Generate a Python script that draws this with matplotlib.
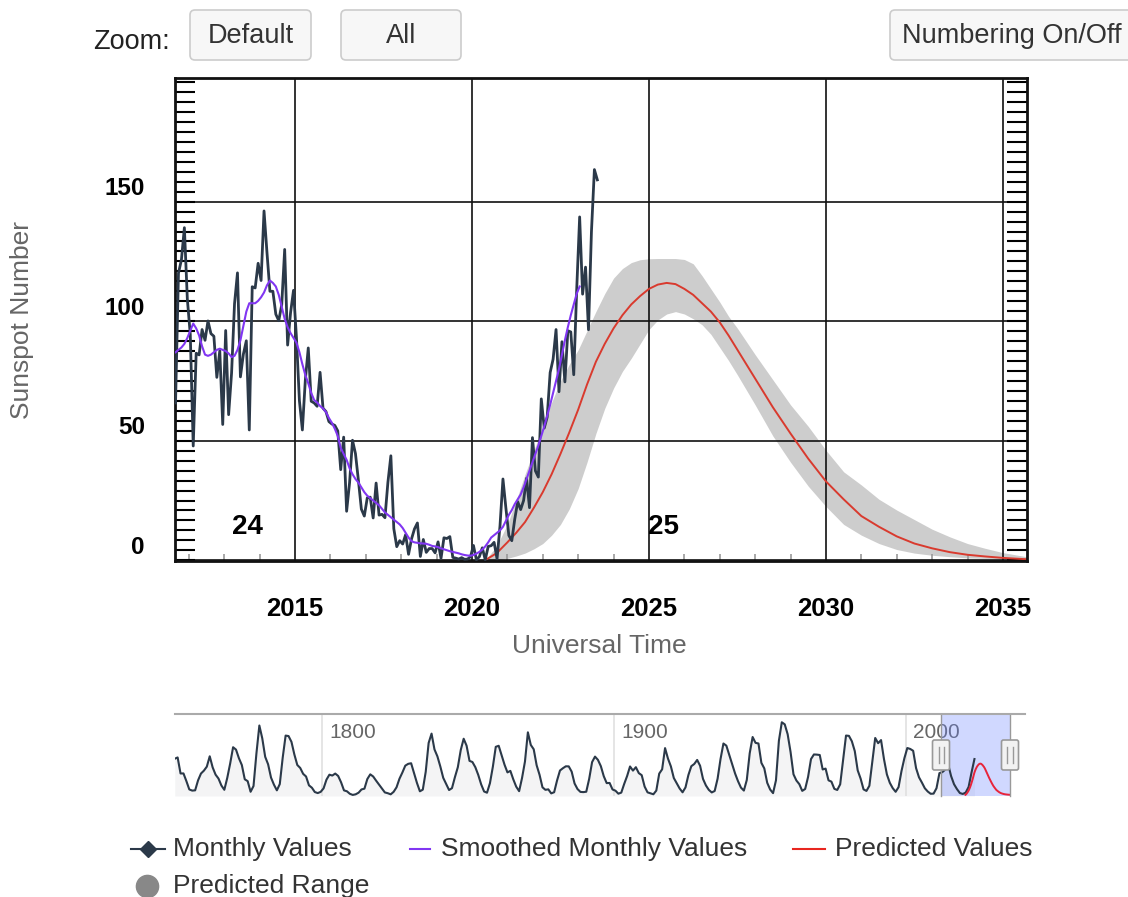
import numpy as np
import pandas as pd
import matplotlib
matplotlib.use('Agg')
import matplotlib.pyplot as plt
from matplotlib.patches import FancyBboxPatch
from matplotlib.lines import Line2D
from matplotlib.ticker import MultipleLocator

plt.rcParams['font.family'] = ['Liberation Sans', 'DejaVu Sans']

W, H = 1128, 897

# monthly mean sunspot number, Aug 2011 .. Jul 2023
monthly_start = '2011-08'
monthly_values = [
    65.8, 120.1, 125.7, 139.1, 109.3,
    94.4, 47.8, 86.6, 85.9, 96.5, 92.0, 100.1, 94.8, 93.7, 76.5, 87.6, 56.8,
    96.1, 60.9, 78.3, 107.3, 120.2, 76.7, 86.2, 91.8, 54.5, 114.4, 113.9, 124.2,
    117.0, 146.1, 128.7, 112.5, 112.5, 102.9, 100.2, 106.9, 130.0, 90.0, 103.6, 112.9,
    93.0, 66.7, 54.5, 75.3, 88.8, 66.5, 65.8, 64.4, 78.6, 63.6, 62.2, 58.0,
    57.0, 56.4, 54.1, 37.9, 51.5, 20.5, 32.4, 50.2, 44.6, 33.4, 21.4, 18.5,
    26.1, 26.4, 17.7, 32.3, 18.9, 19.2, 17.8, 32.6, 43.7, 13.2, 5.7, 8.2,
    6.8, 10.7, 2.5, 8.9, 13.1, 15.6, 1.6, 8.7, 3.3, 4.9, 4.9, 3.1,
    7.7, 0.8, 9.4, 9.1, 9.9, 1.2, 0.9, 0.5, 1.1, 0.4, 0.5, 1.5,
    6.2, 0.2, 1.5, 5.2, 0.2, 5.8, 6.1, 7.5, 0.6, 14.4, 34.0, 21.8,
    10.4, 8.2, 17.2, 24.5, 21.2, 25.0, 34.3, 22.0, 51.3, 37.4, 34.8, 67.5,
    55.3, 59.9, 78.5, 84.1, 96.5, 70.5, 91.4, 74.6, 96.0, 95.5, 77.6, 113.1,
    143.6, 111.3, 122.6, 96.4, 137.4, 163.4, 159.1,
]

# smoothed monthly values, Aug 2011 .. Jan 2023
smoothed_start = '2011-08'
smoothed_values = [
    87, 88, 89, 90.5, 93,
    96, 99, 97, 94, 89.5, 86, 85.5, 86, 87, 88, 88.5, 88,
    87.5, 86.5, 85, 85.5, 88, 92, 98, 104, 107.5, 107.5, 107.5, 108.5,
    110, 112, 115, 117, 116, 114.5, 111, 106, 101, 97.5, 95, 93,
    91, 87, 82, 77.5, 74, 70, 67, 66, 64.5, 63.5, 62, 59.5,
    57.5, 55, 52, 47, 44.5, 42, 38.5, 36, 34, 32.5, 30.5, 28.5,
    27, 26, 25, 24, 23, 21.5, 20, 19, 18, 17, 16, 15,
    13.5, 11.5, 9.5, 8, 7.5, 7.3, 7.1, 7, 6.9, 6.5, 6, 5.8,
    5.5, 5, 4.6, 4.2, 3.8, 3.5, 3.2, 2.9, 2.5, 2.2, 2, 1.9,
    2.2, 2.8, 3.5, 4.5, 5.8, 7.5, 9.5, 10.5, 11.5, 12.5, 14, 16.5,
    19, 21, 23.5, 25.5, 27.5, 30.5, 34, 37.5, 41, 44.5, 48, 52,
    56, 60.5, 65, 70, 75, 80, 86, 92, 97.5, 102.5, 107, 111.5,
    114.5,
]

# predicted cycle 25 and its range
pred_years = [2020.4, 2020.7, 2021.0, 2021.25, 2021.5, 2021.75, 2022.0, 2022.25,
              2022.5, 2022.75, 2023.0, 2023.25, 2023.5, 2023.75, 2024.0, 2024.25,
              2024.5, 2024.75, 2025.0, 2025.25, 2025.5, 2025.75, 2026.0, 2026.25,
              2026.5, 2026.75, 2027.0, 2027.25, 2027.5, 2028.0, 2028.5, 2029.0,
              2029.5, 2030.0, 2030.5, 2031.0, 2031.5, 2032.0, 2032.5, 2033.0,
              2033.5, 2034.0, 2034.5, 2035.0, 2035.7]
pred_values = [0.3, 3.0, 7.5, 11.5, 16, 22, 28.5, 36,
               44.5, 53.5, 63, 73.5, 83, 90.5, 97, 102.5,
               107, 110.5, 113.5, 115.3, 116, 115.5, 113.5, 111,
               107.5, 104, 99.5, 94, 88, 76, 64, 53,
               42.5, 33, 25.5, 18.5, 14, 10, 7, 5,
               3.4, 2.3, 1.6, 1.0, 0.4]
range_low = [0, 0, 0.8, 1.8, 3, 4.8, 7, 10.5,
             15, 21.5, 30, 41, 53, 63.5, 72, 79,
             84.5, 90.5, 96.5, 100.5, 103, 104, 103, 101,
             98.5, 94.5, 89, 83.5, 77.5, 65, 52, 41,
             31, 22.5, 15, 10.5, 7, 4.5, 3, 2.1,
             1.5, 1.0, 0.8, 0.6, 0.4]
range_high = [0.5, 6, 15, 25, 36, 46, 56, 66,
              75, 82, 88, 96, 104, 111.5, 118, 122,
              124.5, 125.7, 126.1, 126.2, 126.2, 126.2, 125.8, 124,
              119, 113.5, 108, 102, 97, 86, 75.5, 65,
              56, 46, 37, 31.5, 25.5, 21, 17, 13,
              9.8, 7, 5, 3.2, 1.4]

# yearly mean sunspot number for the navigator, 1749 .. 2023
yearly_start = 1749
yearly_values = [
    134.0, 139.0, 79.5, 79.7, 51.2, 20.3, 16.0, 17.0, 54.0, 79.3,
    90.0, 104.8, 143.2, 102.0, 75.2, 60.7, 34.8, 19.0, 63.0, 116.3,
    176.8, 168.0, 136.0, 110.8, 58.0, 51.0, 11.7, 33.0, 154.2, 257.3,
    209.8, 141.3, 113.5, 64.2, 38.0, 17.0, 40.2, 138.2, 220.0, 218.2,
    196.8, 149.8, 111.0, 100.0, 78.2, 68.3, 35.5, 26.7, 10.7, 6.8,
    11.3, 24.2, 56.7, 75.0, 71.8, 79.2, 70.3, 46.8, 16.8, 13.5,
    4.2, 0.0, 2.3, 8.3, 20.3, 23.2, 59.0, 76.3, 68.3, 52.9,
    38.5, 24.2, 9.2, 6.3, 2.2, 11.4, 28.2, 59.9, 83.0, 108.5,
    115.2, 117.4, 80.8, 44.3, 13.4, 19.5, 85.8, 192.7, 227.3, 168.7,
    143.0, 105.5, 63.3, 40.3, 18.1, 25.1, 65.8, 102.7, 166.3, 208.3,
    182.5, 126.3, 122.0, 102.7, 74.1, 39.0, 12.7, 8.2, 43.4, 104.4,
    178.3, 182.2, 146.6, 112.1, 83.5, 89.2, 57.8, 30.7, 13.9, 62.8,
    123.6, 232.0, 185.3, 169.2, 110.1, 74.5, 28.3, 18.9, 20.7, 5.7,
    10.0, 53.7, 90.5, 99.0, 106.1, 105.8, 86.3, 42.4, 21.8, 11.2,
    10.4, 11.8, 59.5, 121.7, 142.0, 130.0, 106.6, 69.4, 43.8, 44.4,
    20.2, 15.7, 4.6, 8.5, 40.8, 70.1, 105.5, 90.1, 102.8, 80.9,
    73.2, 30.9, 9.5, 6.0, 2.4, 16.1, 79.0, 95.0, 173.6, 134.6,
    105.7, 62.7, 43.5, 23.7, 9.7, 27.9, 74.0, 106.5, 114.7, 129.7,
    108.2, 59.4, 35.1, 18.6, 9.2, 14.6, 60.2, 132.8, 190.6, 182.6,
    148.0, 113.0, 79.2, 50.8, 27.1, 16.1, 55.3, 154.3, 214.7, 193.0,
    190.7, 118.9, 98.3, 45.0, 20.1, 6.6, 54.2, 200.7, 269.3, 261.7,
    225.1, 159.0, 76.4, 53.4, 39.9, 15.0, 22.0, 66.8, 132.9, 150.0,
    149.4, 148.0, 94.4, 97.6, 54.1, 49.2, 22.5, 18.4, 39.3, 131.0,
    220.1, 218.9, 198.9, 162.4, 91.0, 60.5, 20.6, 14.8, 33.9, 123.0,
    211.1, 191.8, 203.3, 133.0, 76.1, 44.9, 25.1, 11.6, 28.9, 88.3,
    136.3, 173.9, 170.4, 163.6, 99.3, 65.3, 45.8, 24.7, 12.6, 4.2,
    4.8, 24.9, 80.8, 84.5, 94.0, 113.3, 69.8, 39.8, 21.7, 7.0,
    3.6, 8.8, 29.6, 83.2, 133.0,
]

cycle_labels = ['24', '25']
cycle_label_years = [2013.67, 2025.42]
x_ticks = [2015, 2020, 2025, 2030, 2035]
y_ticks = [0, 50, 100, 150]
nav_ticks = [1800, 1900, 2000]
nav_selection = [2012.0, 2035.68]
button_labels = ['Default', 'All', 'Numbering On/Off']
legend_labels = ['Monthly Values', 'Smoothed Monthly Values', 'Predicted Values', 'Predicted Range']

C_MONTH = '#2b3949'
C_SMOOTH = '#8136f2'
C_PRED = '#d93a2e'
C_RANGE = '#cdcdcd'


def month_years(start, n):
    idx = pd.date_range(start, periods=n, freq='MS')
    return np.asarray(idx.year + (idx.month - 0.5) / 12.0)


def inch(x, y):
    return x / 100.0, (H - y) / 100.0


fig = plt.figure(figsize=(W / 100, H / 100), dpi=100)
tr = fig.dpi_scale_trans

# ---- main chart
ax = fig.add_axes([175 / W, 1 - 561 / H, (1027 - 175) / W, (561 - 78) / H])
ax.set_xlim(2011.61, 2035.68)
ax.set_ylim(-0.3, 201.7)
ax.set_axisbelow(True)

ax.fill_between(pred_years, range_low, range_high, color=C_RANGE, lw=0, zorder=0.3)
ax.plot(pred_years, pred_values, color=C_PRED, lw=1.4, zorder=2)
ax.plot(month_years(monthly_start, len(monthly_values)), monthly_values,
        color=C_MONTH, lw=2.0, zorder=3)
ax.plot(month_years(smoothed_start, len(smoothed_values)), smoothed_values,
        color=C_SMOOTH, lw=1.5, zorder=4)

ax.set_xticks(x_ticks)
ax.set_xticklabels([str(t) for t in x_ticks], fontsize=18.5, fontweight='bold')
ax.xaxis.set_minor_locator(MultipleLocator(1))
ax.tick_params(axis='x', which='major', length=0, pad=26)
ax.tick_params(axis='x', which='minor', direction='in', length=5, width=1.2, color='#999999')

ax.set_yticks(y_ticks)
ax.set_yticklabels([])
ax.yaxis.set_minor_locator(MultipleLocator(50 / 12))
ax.tick_params(axis='y', which='both', direction='in', length=14.5, width=1.5,
               color='black', left=True, right=True)
for v in y_ticks:
    ax.annotate(str(v), xy=(0, v), xycoords=('axes fraction', 'data'),
                xytext=(-21.6, 9.4), textcoords='offset points', ha='right', va='center',
                fontsize=17.5, fontweight='bold')

ax.grid(True, which='major', color='#111111', lw=1.2)
for s in ax.spines.values():
    s.set_linewidth(2.0)
    s.set_color('#111111')

for lab, yr in zip(cycle_labels, cycle_label_years):
    ax.text(yr, 13.8, lab, ha='center', va='center', fontsize=20, fontweight='bold')

fig.text(*inch(599, 646), 'Universal Time', transform=tr, ha='center', va='center',
         fontsize=19, color='#666666')
fig.text(*inch(22, 320), 'Sunspot Number', transform=tr, ha='center', va='center',
         rotation=90, fontsize=19, color='#666666')

# ---- top controls
fig.text(*inch(170, 42), 'Zoom:', transform=tr, ha='right', va='center',
         fontsize=19.5, color='#222222')
for lab, (x0, x1) in zip(button_labels, [(190, 311), (341, 461), (890, 1140)]):
    fig.add_artist(FancyBboxPatch(inch(x0, 60), (x1 - x0) / 100, 0.5,
                                  boxstyle='round,pad=0,rounding_size=0.05',
                                  transform=tr, fc='#f7f7f7', ec='#cccccc', lw=1.2))
    cx = (x0 + x1) / 2 if x1 < W else 1012
    fig.text(*inch(cx, 36), lab, transform=tr, ha='center', va='center',
             fontsize=19.5, color='#333333')

# ---- navigator
nav = fig.add_axes([175 / W, 1 - 796 / H, (1010 - 175) / W, (796 - 714) / H])
nav.set_xlim(1749.6, 2035.68)
nav.set_ylim(-4, 300)
nav.axis('off')
ny = yearly_start + np.arange(len(yearly_values)) + 0.5
nav.fill_between(ny, yearly_values, -4, color=C_MONTH, alpha=0.05, lw=0)
nav.plot(ny, yearly_values, color=C_MONTH, lw=1.5, zorder=3, solid_joinstyle='round')
nav.plot(pred_years, pred_values, color='#e8243a', lw=1.4, zorder=3)
for t in nav_ticks:
    nav.axvline(t, color='#e0e0e0', lw=1.2, zorder=1)
    nav.annotate(str(t), xy=(t, 1), xycoords=('data', 'axes fraction'),
                 xytext=(5.5, -13), textcoords='offset points', ha='left', va='center',
                 fontsize=15, color='#666666', zorder=1)
nav.axvspan(nav_selection[0], nav_selection[1], color=(0.4, 0.5, 1.0), alpha=0.3,
            lw=0, zorder=2)
for xs in nav_selection:
    nav.axvline(xs, color='#999999', lw=1.0, zorder=4, clip_on=False)
fig.add_artist(Line2D([175 / 100, 1025 / 100], [(H - 714) / 100] * 2, transform=tr,
                      color='#aaaaaa', lw=1.5))
for hx in (941, 1010):
    fig.add_artist(FancyBboxPatch(inch(hx - 8.5, 770), 0.17, 0.30,
                                  boxstyle='round,pad=0,rounding_size=0.02',
                                  transform=tr, fc='#f2f2f2', ec='#999999', lw=1.2))
    for dx in (-2.5, 2.5):
        fig.add_artist(Line2D([(hx + dx) / 100] * 2, [(H - 763) / 100, (H - 747) / 100],
                              transform=tr, color='#999999', lw=1.0))

# ---- legend
ly1, ly2 = 849, 886
fig.add_artist(Line2D([131 / 100, 165 / 100], [(H - ly1) / 100] * 2, transform=tr,
                      color=C_MONTH, lw=1.5))
fig.add_artist(Line2D([148 / 100], [(H - ly1) / 100], transform=tr, marker='D',
                      ms=8.5, color=C_MONTH, lw=0))
fig.add_artist(Line2D([410 / 100, 430 / 100], [(H - ly1) / 100] * 2, transform=tr,
                      color=C_SMOOTH, lw=1.5))
fig.add_artist(Line2D([793 / 100, 825 / 100], [(H - ly1) / 100] * 2, transform=tr,
                      color='#e8261f', lw=1.5))
fig.add_artist(Line2D([147 / 100], [(H - ly2) / 100], transform=tr, marker='o',
                      ms=16, color='#888888', lw=0))
for lab, (tx, ty) in zip(legend_labels, [(173, ly1), (441, ly1), (835, ly1), (173, ly2)]):
    fig.text(*inch(tx, ty), lab, transform=tr, ha='left', va='center',
             fontsize=19, color='#333333')

fig.savefig('out.png', dpi=100)
